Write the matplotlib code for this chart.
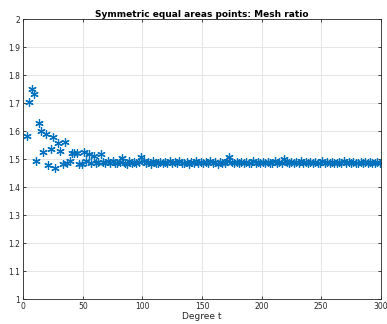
import matplotlib
matplotlib.use("Agg")
import matplotlib.pyplot as plt
from matplotlib.ticker import FuncFormatter

# degrees t (odd) and mesh ratio
degrees = list(range(3, 300, 2))

mesh_ratio = [
    1.584, 1.706, 1.752, 1.732, 1.494, 1.630, 1.602, 1.526, 1.590, 1.481,
    1.536, 1.578, 1.470, 1.557, 1.528, 1.483, 1.561, 1.485, 1.493, 1.523,
    1.524, 1.523, 1.482, 1.484, 1.525, 1.494, 1.519, 1.486, 1.512, 1.485,
    1.490, 1.517, 1.491, 1.488, 1.493, 1.487, 1.495, 1.486, 1.488, 1.490,
    1.506, 1.488, 1.484, 1.492, 1.487, 1.489, 1.485, 1.491, 1.508, 1.494,
    1.486, 1.489, 1.484, 1.492, 1.488, 1.486, 1.491, 1.485, 1.490, 1.487,
    1.493, 1.486, 1.489, 1.485, 1.492, 1.488, 1.486, 1.490, 1.484, 1.491,
    1.488, 1.493, 1.486, 1.489, 1.485, 1.490, 1.487, 1.492, 1.486, 1.489,
    1.484, 1.491, 1.487, 1.488, 1.493, 1.508, 1.490, 1.486, 1.489, 1.485,
    1.491, 1.487, 1.490, 1.486, 1.488, 1.492, 1.485, 1.489, 1.487, 1.491,
    1.486, 1.490, 1.488, 1.485, 1.492, 1.487, 1.489, 1.486, 1.500, 1.491,
    1.487, 1.490, 1.485, 1.489, 1.488, 1.492, 1.486, 1.489, 1.487, 1.491,
    1.485, 1.490, 1.488, 1.486, 1.493, 1.487, 1.489, 1.485, 1.491, 1.488,
    1.486, 1.490, 1.487, 1.492, 1.486, 1.489, 1.485, 1.490, 1.488, 1.487,
    1.491, 1.486, 1.489, 1.487, 1.490, 1.485, 1.488, 1.491, 1.487,
]

x_ticks = [0, 50, 100, 150, 200, 250, 300]
y_ticks = [1.0, 1.1, 1.2, 1.3, 1.4, 1.5, 1.6, 1.7, 1.8, 1.9, 2.0]

fig = plt.figure(figsize=(3.87, 3.24), dpi=100)
ax = fig.add_axes([0.060, 0.077, 0.924, 0.863])

# matlab style asterisk marker (6 spokes)
ax.plot(degrees, mesh_ratio, linestyle="none", marker=(6, 2, 0),
        markersize=6, color="#0072BD", markeredgewidth=0.9)

ax.set_xlim(0, 300)
ax.set_ylim(1, 2)
ax.set_xticks(x_ticks)
ax.set_yticks(y_ticks)
ax.yaxis.set_major_formatter(FuncFormatter(lambda v, p: "%g" % round(v, 1)))

ax.grid(True, color="#e5e5e5", linewidth=0.7)
ax.set_axisbelow(True)
ax.tick_params(direction="in", length=2.5, width=0.6, labelsize=5.5,
               colors="#262626", top=True, right=True, pad=2)
for sp in ax.spines.values():
    sp.set_color("#262626")
    sp.set_linewidth(0.6)

ax.set_title("Symmetric equal areas points: Mesh ratio", fontsize=6.5,
             fontweight="bold", pad=2)
ax.set_xlabel("Degree t", fontsize=6.5, labelpad=1, color="#262626")

plt.savefig("out.png", dpi=100)
